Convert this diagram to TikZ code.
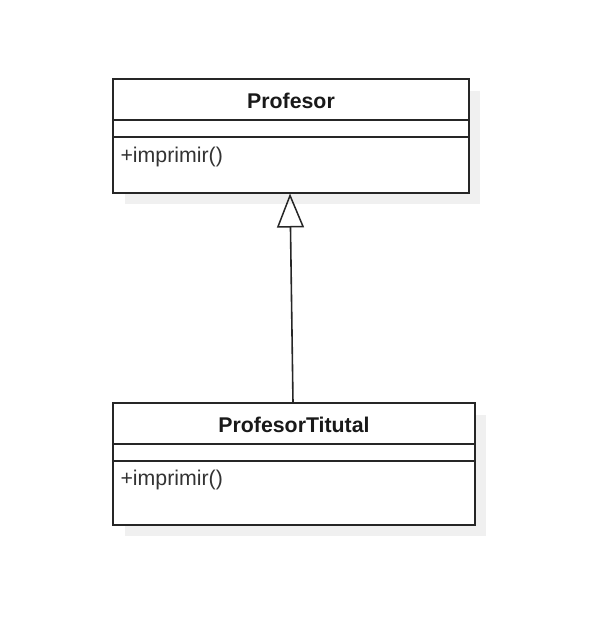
\documentclass[tikz,border=0pt]{standalone}
\usepackage{fontspec}
\setmainfont{Liberation Sans}
\usetikzlibrary{arrows.meta}
\begin{document}
\begin{tikzpicture}[x=1pt,y=-1pt,
  box/.style={draw=black!85,line width=1.5pt},
  shadowbox/.style={fill=black!6,draw=none},
  titletext/.style={font=\fontsize{21.3}{24}\selectfont\bfseries,text=black!90},
  methtext/.style={font=\fontsize{21.3}{24}\selectfont,text=black!80,anchor=west},
  inherit/.style={draw=black!85,line width=1.6pt,-{Triangle[open,length=34pt,width=27pt,line width=1.5pt]}}]
\useasboundingbox (0,0) rectangle (592,637);
% top class
\fill[shadowbox] (125,91) rectangle (480,204);
\filldraw[box,fill=white] (113,79) rectangle (469,193);
\draw[box] (113,120) -- (469,120);
\draw[box] (113,137) -- (469,137);
\node[titletext] (t1) at (291,101) {Profesor};
\node[methtext] (m1) at (117,156.5) {+imprimir()};
\coordinate (p1) at (290,193.5);
% bottom class
\fill[shadowbox] (125,415) rectangle (486,536);
\filldraw[box,fill=white] (113,403) rectangle (475,525);
\draw[box] (113,444) -- (475,444);
\draw[box] (113,461) -- (475,461);
\node[titletext] (t2) at (294,424.5) {ProfesorTitutal};
\node[methtext] (m2) at (117,479.5) {+imprimir()};
\coordinate (p2) at (293,403);
\draw[inherit] (p2) -- (p1);
\end{tikzpicture}
\end{document}
